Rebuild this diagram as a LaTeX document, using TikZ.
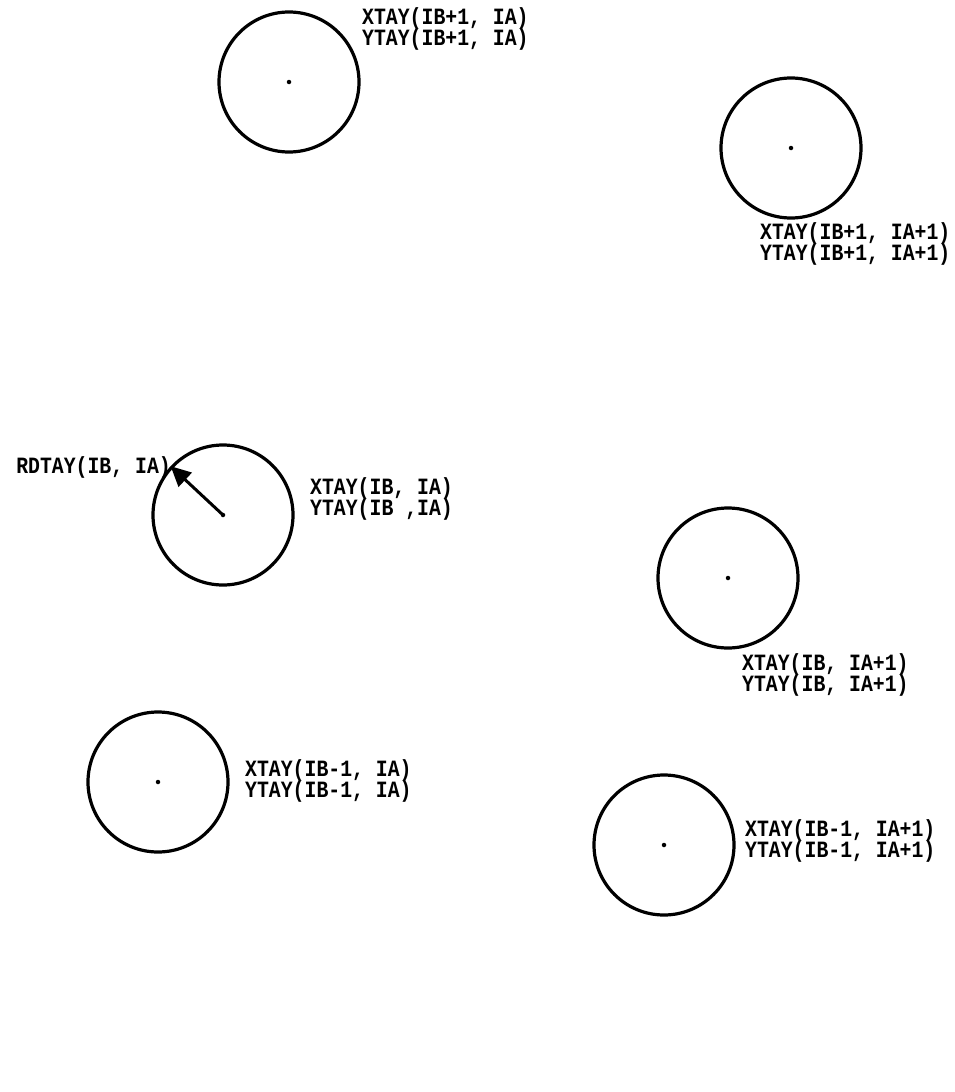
\documentclass[tikz,border=0pt]{standalone}
\usepackage{fontspec}
\newfontfamily\printerfont[FakeStretch=0.85]{Liberation Mono}
\newcommand\lblfont{\printerfont\bfseries\fontsize{23.3}{21}\selectfont\lineskiplimit=-100pt\relax\lineskip=0pt\relax}
\usetikzlibrary{arrows.meta}
\tikzset{
  ring/.style={circle, draw, line width=3.2pt, minimum size=140pt, inner sep=0pt},
  lbl/.style={font=\lblfont, align=left, inner sep=0pt, anchor=west},
  ctr/.style={fill, circle, inner sep=0pt, minimum size=4.5pt},
  radius arrow/.style={line width=3pt, -{Triangle[length=20pt,width=19pt]}}
}
\begin{document}
\begin{tikzpicture}[x=1pt,y=-1pt]
\useasboundingbox (0,0) rectangle (955,1092);
% circles
\node[ring] (cA) at (289,82) {};
\node[ring] (cB) at (791,148) {};
\node[ring] (cC) at (223,515) {};
\node[ring] (cD) at (728,578) {};
\node[ring] (cE) at (158,782) {};
\node[ring] (cF) at (664,845) {};
% centre dots
\foreach \c in {cA,cB,cC,cD,cE,cF} \node[ctr] (\c dot) at (\c.center) {};
% labels
\node[lbl] (lA) at (362,29) {XTAY(IB+1, IA)\\YTAY(IB+1, IA)};
\node[lbl] (lB) at (760,244) {XTAY(IB+1, IA+1)\\YTAY(IB+1, IA+1)};
\node[lbl] (lC) at (310,499) {XTAY(IB, IA)\\YTAY(IB ,IA)};
\node[lbl] (lD) at (742,675) {XTAY(IB, IA+1)\\YTAY(IB, IA+1)};
\node[lbl] (lE) at (245,781) {XTAY(IB-1, IA)\\YTAY(IB-1, IA)};
\node[lbl] (lF) at (745,841) {XTAY(IB-1, IA+1)\\YTAY(IB-1, IA+1)};
\node[lbl, anchor=east] (lR) at (171,467) {RDTAY(IB, IA)};
% radius arrow
\coordinate (rim) at (cC.137);
\draw[radius arrow] (cCdot.center) -- (rim);
\end{tikzpicture}
\end{document}
